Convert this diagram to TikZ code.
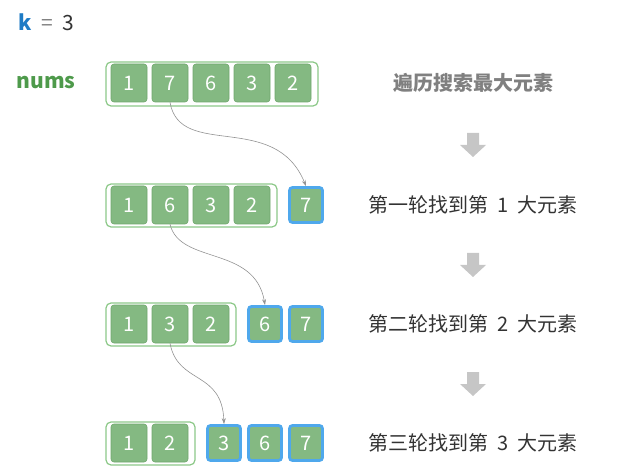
\documentclass[tikz,border=0pt]{standalone}
\usepackage{fontspec}
\setmainfont{Noto Sans CJK SC}
\setsansfont{Noto Sans CJK SC}
\usetikzlibrary{arrows.meta,positioning}
\definecolor{cellfill}{HTML}{84B982}
\definecolor{cellline}{HTML}{6FA66C}
\definecolor{boxline}{HTML}{8CC888}
\definecolor{pickline}{HTML}{4FA8EC}
\definecolor{kblue}{HTML}{1E7BC5}
\definecolor{numsgreen}{HTML}{4E9A4B}
\definecolor{txtgray}{HTML}{333333}
\tikzset{
	cell/.style={draw=cellline, fill=cellfill, rounded corners=3pt, minimum width=36pt, minimum height=38pt, text=white, font=\fontsize{20}{20}\selectfont, line width=0.6pt},
	pick/.style={cell, draw=pickline, line width=2.8pt, minimum width=33pt, minimum height=35pt},
	outer/.style={draw=boxline, rounded corners=5pt, line width=1.2pt},
	move/.style={draw=gray!85, -{Stealth[length=6pt,width=4pt]}, line width=0.6pt},
	roundtxt/.style={font=\fontsize{20}{20}\selectfont, text=txtgray},
	down/.style={fill=gray!45, draw=none},
}
\begin{document}
\begin{tikzpicture}[x=1pt,y=-1pt]
	\useasboundingbox (0,0) rectangle (630,476);
	
	\node[anchor=west, font=\fontsize{21}{21}\selectfont] (k) at (15,22) {\textcolor{kblue}{\textbf{k}}\ \ \textcolor{gray}{=}\ \ \textcolor{txtgray}{3}};
	\node[font=\bfseries\fontsize{21}{21}\selectfont, text=numsgreen] (nums) at (46,83) {nums};
	
	% row 0
	\draw[outer] (106,62) rectangle (318,106);
	\foreach \v [count=\i] in {1,7,6,3,2}
		\node[cell] (a\i) at (88+41*\i,83) {\v};
	
	% row 1
	\draw[outer] (106,184) rectangle (277,227);
	\foreach \v [count=\i] in {1,6,3,2}
		\node[cell] (b\i) at (88+41*\i,205) {\v};
	\node[pick] (b5) at (306,205) {7};
	
	% row 2
	\draw[outer] (106,303) rectangle (236,346);
	\foreach \v [count=\i] in {1,3,2}
		\node[cell] (c\i) at (88+41*\i,324) {\v};
	\node[pick] (c4) at (265,324) {6};
	\node[pick] (c5) at (306,324) {7};
	
	% row 3
	\draw[outer] (106,422) rectangle (195,465);
	\foreach \v [count=\i] in {1,2}
		\node[cell] (d\i) at (88+41*\i,443) {\v};
	\node[pick] (d3) at (224,443) {3};
	\node[pick] (d4) at (265,443) {6};
	\node[pick] (d5) at (306,443) {7};
	
	\draw[move] (a2.south) .. controls (180,160) and (275,110) .. (b5.north);
	\draw[move] (b2.south) .. controls (180,265) and (255,245) .. (c4.north);
	\draw[move] (c2.south) .. controls (178,385) and (222,370) .. (d3.north);
	
	% labels on the right
	\node[roundtxt, text=gray, font=\bfseries\fontsize{20}{20}\selectfont] (t0) at (473,83) {遍历搜索最大元素};
	\node[roundtxt] (t1) at (473,205) {第一轮找到第\ \ 1\ \ 大元素};
	\node[roundtxt] (t2) at (473,324) {第二轮找到第\ \ 2\ \ 大元素};
	\node[roundtxt] (t3) at (473,443) {第三轮找到第\ \ 3\ \ 大元素};
	\foreach \y in {145,265,384}
		\fill[down] (467,\y-12) -- (479,\y-12) -- (479,\y) -- (486,\y) -- (473,\y+12) -- (460,\y) -- (467,\y) -- cycle;
\end{tikzpicture}
\end{document}
